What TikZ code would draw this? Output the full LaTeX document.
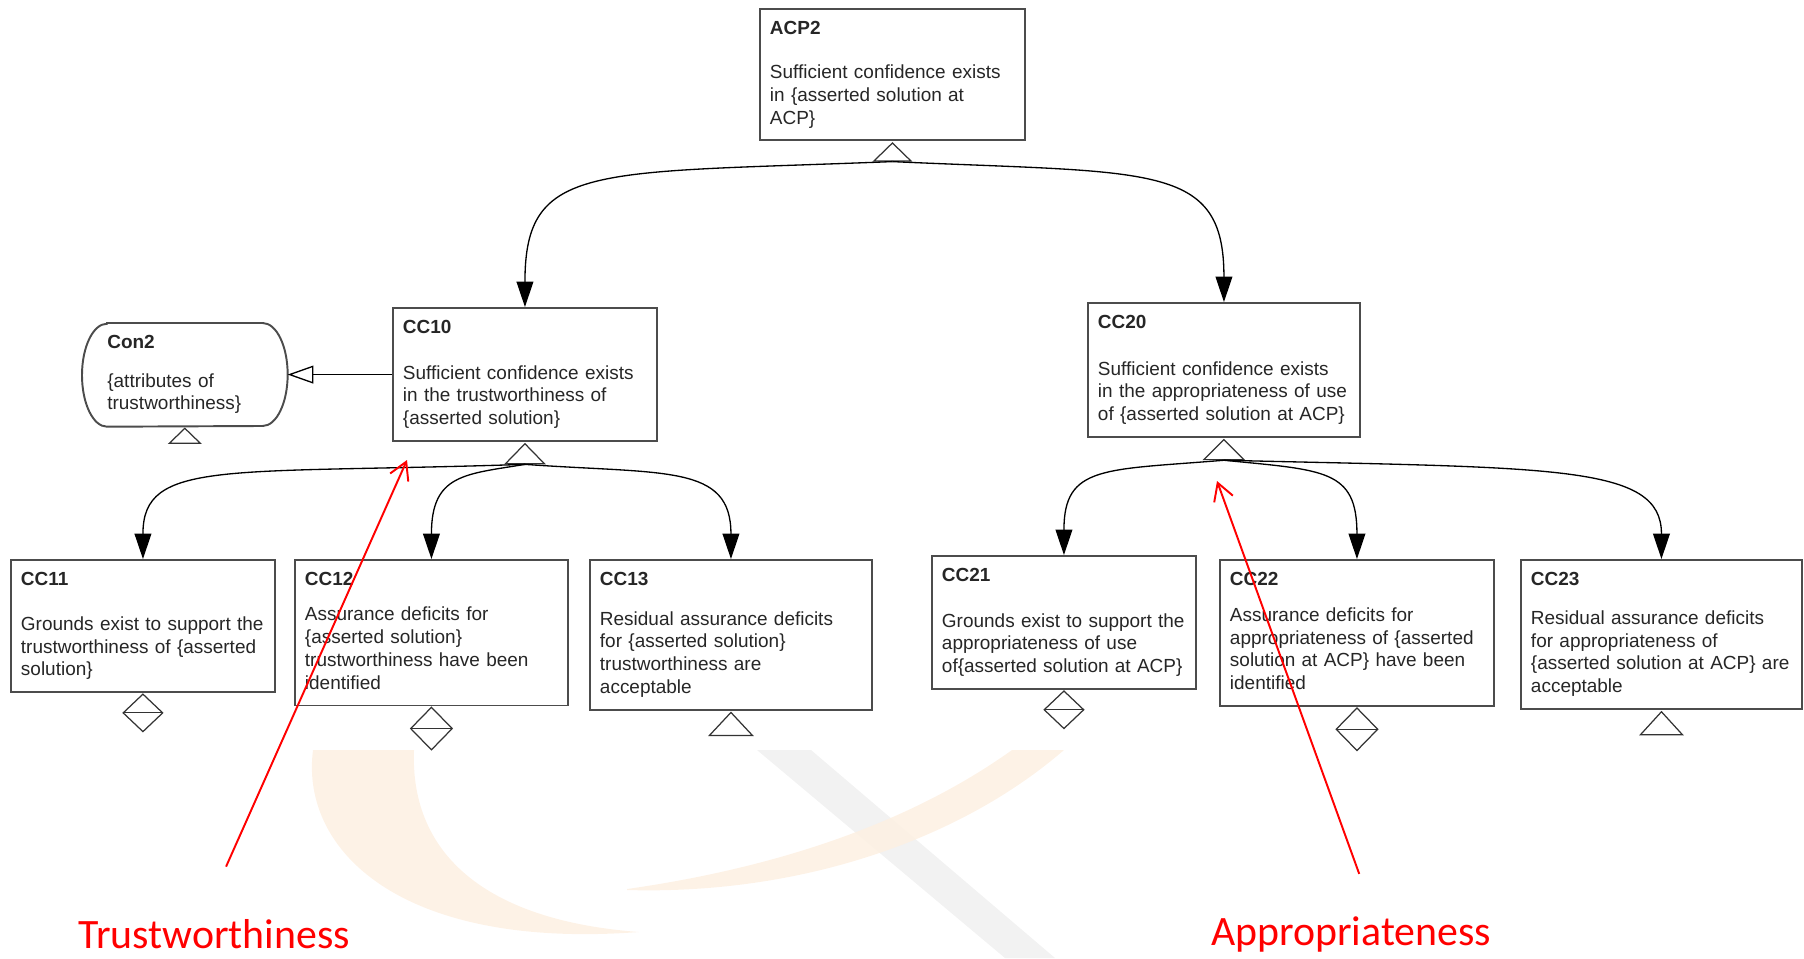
\documentclass[tikz,border=0pt]{standalone}
\usepackage{fontspec}
\setmainfont{Liberation Sans}
\newfontfamily\annotfont{Carlito}
\usetikzlibrary{arrows.meta,shapes.geometric}

\definecolor{wmorange}{RGB}{253,240,226}
\definecolor{wmgray}{RGB}{242,242,242}
\definecolor{annotred}{RGB}{255,0,0}

\tikzset{
  goal/.style={rectangle, draw=black!70, line width=1.1pt, anchor=north west, align=left,
    inner xsep=0.2cm, inner ysep=0.19cm, text=black!85,
    font={\fontsize{10.8pt}{13pt}\selectfont}},
  context/.style={rectangle, anchor=north west, align=left, inner xsep=0.5cm, inner ysep=0.15cm,
    text width=3.1cm, minimum width=4.1cm, minimum height=2.06cm, text=black!85,
    font={\fontsize{10.8pt}{12.5pt}\selectfont}},
  ctxline/.style={draw=black!70, line width=1.1pt},
  uninst/.style={isosceles triangle, isosceles triangle stretches=true, shape border rotate=90,
    draw=black!80, line width=0.7pt, inner sep=0pt, anchor=apex},
  undev/.style={diamond, draw=black!80, line width=0.7pt, inner sep=0pt, anchor=north,
    path picture={\draw[black!80, line width=0.7pt] (path picture bounding box.west) -- (path picture bounding box.east);}},
  support/.style={line width=0.75pt, -{Triangle[length=14.5pt,width=9.6pt]}},
  incontext/.style={line width=0.75pt, -{Triangle[open,length=14.7pt,width=10.2pt]}},
  annot/.style={annotred, line width=1.1pt, -{Straight Barb[length=9.8pt,width=11.3pt]}},
  annotlabel/.style={annotred, inner sep=0pt, anchor=base west,
    font={\annotfont\fontsize{23.8pt}{28pt}\selectfont}}
}

\begin{document}
\begin{tikzpicture}[x=0.02cm, y=-0.02cm]
\useasboundingbox (0,0) rectangle (1804,958);

% Faint watermark behind the diagram
  \fill[wmgray] (757,750) -- (811,750) -- (1055,958) -- (1005,958) -- cycle;
  \fill[wmorange, fill opacity=0.85] (313,750) .. controls (300,850) and (400,950) .. (639,932)
     .. controls (480,920) and (410,850) .. (414,750) -- cycle;
  \fill[wmorange, fill opacity=0.85] (627,889) .. controls (760,870) and (900,830) .. (1012,750)
     -- (1064,750) .. controls (960,840) and (800,895) .. (627,890) -- cycle;

% Top claim
  \node[goal, text width=4.9cm] (acp2) at (759,8)
    {\strut\textbf{ACP2}\\[12pt]Sufficient confidence exists\\in \{asserted solution at\\ACP\}\strut};
  \node[uninst, minimum width=0.74cm, minimum height=0.36cm] (acp2t) at (acp2.south) {};

% Second level
  \node[goal, text width=4.88cm] (cc10) at (392,307)
    {\strut\textbf{CC10}\\[13pt]Sufficient confidence exists\\in the trustworthiness of\\\{asserted solution\}\strut};
  \node[uninst, minimum width=0.78cm, minimum height=0.4cm] (cc10t) at (cc10.south) {};

  \node[goal, text width=5.04cm] (cc20) at (1087,302)
    {\strut\textbf{CC20}\\[13.5pt]Sufficient confidence exists\\in the appropriateness of use\\of \{asserted solution at ACP\}\strut};
  \node[uninst, minimum width=0.8cm, minimum height=0.4cm] (cc20t) at (cc20.south) {};

% Context
  \node[context] (con2) at (82,323)
    {\strut\textbf{Con2}\\[9.5pt]\{attributes of\\trustworthiness\}\strut};
  \draw[ctxline] ([xshift=0.5cm]con2.north west) -- ([xshift=-0.5cm]con2.north east)
     arc[start angle=90, end angle=-90, x radius=0.5cm, y radius=1.03cm]
     -- ([xshift=0.5cm]con2.south west)
     arc[start angle=270, end angle=90, x radius=0.5cm, y radius=1.03cm] -- cycle;
  \node[uninst, minimum width=0.62cm, minimum height=0.3cm] (con2t) at (con2.south) {};

% Bottom row, trustworthiness side
  \node[goal, text width=4.88cm] (cc11) at (10,559)
    {\strut\textbf{CC11}\\[12.5pt]Grounds exist to support the\\trustworthiness of \{asserted\\solution\}\strut};
  \node[undev, minimum width=0.8cm, minimum height=0.76cm] (cc11d) at (cc11.south) {};

  \node[goal, text width=5.06cm] (cc12) at (294,559)
    {\strut\textbf{CC12}\\[7pt]Assurance deficits for\\\{asserted solution\}\\trustworthiness have been\\identified\strut};
  \node[undev, minimum width=0.84cm, minimum height=0.86cm] (cc12d) at (cc12.south) {};

  \node[goal, text width=5.24cm] (cc13) at (589,559)
    {\strut\textbf{CC13}\\[9.5pt]Residual assurance deficits\\for \{asserted solution\}\\trustworthiness are\\acceptable\strut};
  \node[uninst, minimum width=0.86cm, minimum height=0.46cm] (cc13t) at (cc13.south) {};

% Bottom row, appropriateness side
  \node[goal, text width=4.88cm] (cc21) at (931,555)
    {\strut\textbf{CC21}\\[13pt]Grounds exist to support the\\appropriateness of use\\of\{asserted solution at ACP\}\strut};
  \node[undev, minimum width=0.8cm, minimum height=0.76cm] (cc21d) at (cc21.south) {};

  \node[goal, text width=5.08cm] (cc22) at (1219,559)
    {\strut\textbf{CC22}\\[7.4pt]Assurance deficits for\\appropriateness of \{asserted\\solution at ACP\} have been\\identified\strut};
  \node[undev, minimum width=0.84cm, minimum height=0.86cm] (cc22d) at (cc22.south) {};

  \node[goal, text width=5.22cm] (cc23) at (1520,559)
    {\strut\textbf{CC23}\\[9.1pt]Residual assurance deficits\\for appropriateness of\\\{asserted solution at ACP\} are\\acceptable\strut};
  \node[uninst, minimum width=0.84cm, minimum height=0.46cm] (cc23t) at (cc23.south) {};

% Supported-by links
  \draw[support] (acp2t.south) .. controls +(-300,12) and +(0,-145) .. (cc10.north);
  \draw[support] (acp2t.south) .. controls +(260,12) and +(0,-140) .. (cc20.north);

  \draw[support] (cc10t.south) .. controls +(-300,10) and +(0,-100) .. (cc11.north);
  \draw[support] (cc10t.south) .. controls +(-60,10) and +(0,-85) .. (cc12.north);
  \draw[support] (cc10t.south) .. controls +(140,10) and +(0,-95) .. (cc13.north);

  \draw[support] (cc20t.south) .. controls +(-120,10) and +(0,-90) .. (cc21.north);
  \draw[support] (cc20t.south) .. controls +(100,10) and +(0,-90) .. (cc22.north);
  \draw[support] (cc20t.south) .. controls +(330,8) and +(0,-95) .. (cc23.north);

% In-context-of link
  \draw[incontext] (cc10.west) -- (cc10.west -| con2.east);

% Red notes
  \node[annotlabel] (trustlbl) at (78,948) {Trustworthiness};
  \node[annotlabel] (apprlbl) at (1211,945) {Appropriateness};
  \coordinate (trusttip) at (407,460);
  \coordinate (apprtip) at (1217,481);
  \draw[annot] ([shift={(12,-52)}]trustlbl.north) -- (trusttip);
  \draw[annot] ([shift={(8,-42)}]apprlbl.north) -- (apprtip);

\end{tikzpicture}
\end{document}
